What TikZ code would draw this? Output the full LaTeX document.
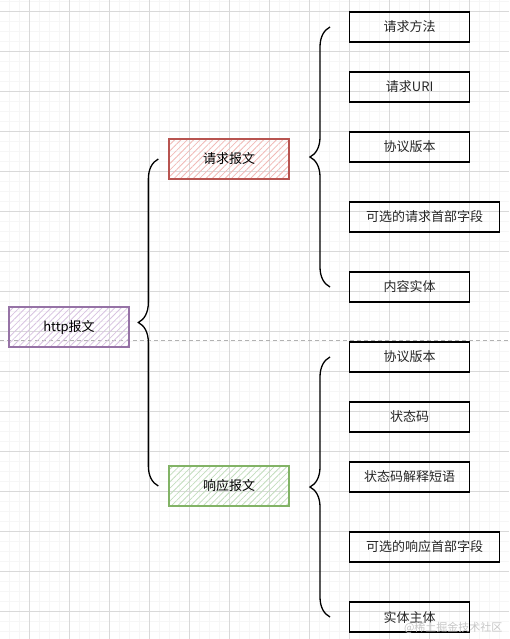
\documentclass[tikz,border=0pt]{standalone}
\usepackage{fontspec}
\setmainfont{Noto Sans CJK SC}
\usetikzlibrary{patterns.meta,decorations.pathreplacing}

\tikzset{
  msgbox/.style={draw, line width=1.3pt, minimum width=120pt, minimum height=40pt,
    inner sep=0pt, font=\fontsize{13}{15}\selectfont,
    pattern={Lines[angle=45,distance=4.5pt,line width=0.8pt]}},
  fieldbox/.style={draw, line width=1.3pt, minimum width=120pt, minimum height=30pt,
    inner sep=0pt, anchor=west, font=\fontsize{13}{15}\selectfont, text=black!85},
  bracket/.style={decorate, decoration={brace, amplitude=20pt}, line width=1.3pt},
  gridline/.style={draw=gray!30, line width=0.6pt},
  finegrid/.style={draw=gray!7, line width=0.4pt}
}

\begin{document}
\begin{tikzpicture}[x=1pt, y=-1pt]
  % Define colors
  \definecolor{httpborder}{HTML}{9673A6}
  \definecolor{httphatch}{HTML}{D7C2E0}
  \definecolor{reqborder}{HTML}{B85450}
  \definecolor{reqhatch}{HTML}{F0B9B6}
  \definecolor{respborder}{HTML}{82B366}
  \definecolor{resphatch}{HTML}{C2DDBD}

  \useasboundingbox (0,0) rectangle (509,639);

  % Background grid
  \foreach \x in {9.5,19.5,...,509} \draw[finegrid] (\x,0) -- (\x,639);
  \foreach \y in {1.5,11.5,...,639} \draw[finegrid] (0,\y) -- (509,\y);
  \foreach \x in {29.5,69.5,...,509} \draw[gridline] (\x,0) -- (\x,639);
  \foreach \y in {11.5,51.5,...,639} \draw[gridline] (0,\y) -- (509,\y);

  % Page break line
  \draw[gray!60, line width=0.6pt, dash pattern=on 4pt off 3pt] (0,340.7) -- (509,340.7);

  % Messages
  \node[msgbox, draw=httpborder, pattern color=httphatch] (http) at (69,327) {http报文};
  \node[msgbox, draw=reqborder, pattern color=reqhatch] (req) at (229,159) {请求报文};
  \node[msgbox, draw=respborder, pattern color=resphatch] (resp) at (229,486) {响应报文};

  % Request fields
  \node[fieldbox] (reqmethod) at (349,27) {请求方法};
  \node[fieldbox] (requri) at (349,87) {请求URI};
  \node[fieldbox] (reqversion) at (349,147) {协议版本};
  \node[fieldbox, minimum width=150pt] (reqheader) at (349,217) {可选的请求首部字段};
  \node[fieldbox] (reqbody) at (349,287) {内容实体};

  % Response fields
  \node[fieldbox] (respversion) at (349,357) {协议版本};
  \node[fieldbox] (respstatus) at (349,417) {状态码};
  \node[fieldbox] (respphrase) at (349,477) {状态码解释短语};
  \node[fieldbox, minimum width=150pt] (respheader) at (349,547) {可选的响应首部字段};
  \node[fieldbox] (respbody) at (349,617) {实体主体};

  % Braces
  \draw[bracket] ([xshift=-10pt]resp.west) -- ([xshift=-10pt]req.west);
  \draw[bracket] ([xshift=-19pt]reqbody.west) -- ([xshift=-19pt]reqmethod.west);
  \draw[bracket] ([xshift=-19pt]respbody.west) -- ([xshift=-19pt]respversion.west);

  % Watermark
  \node[anchor=east, text=gray!45, font=\fontsize{11}{13}\selectfont] (mark) at (506,628) {@稀土掘金技术社区};
\end{tikzpicture}
\end{document}
